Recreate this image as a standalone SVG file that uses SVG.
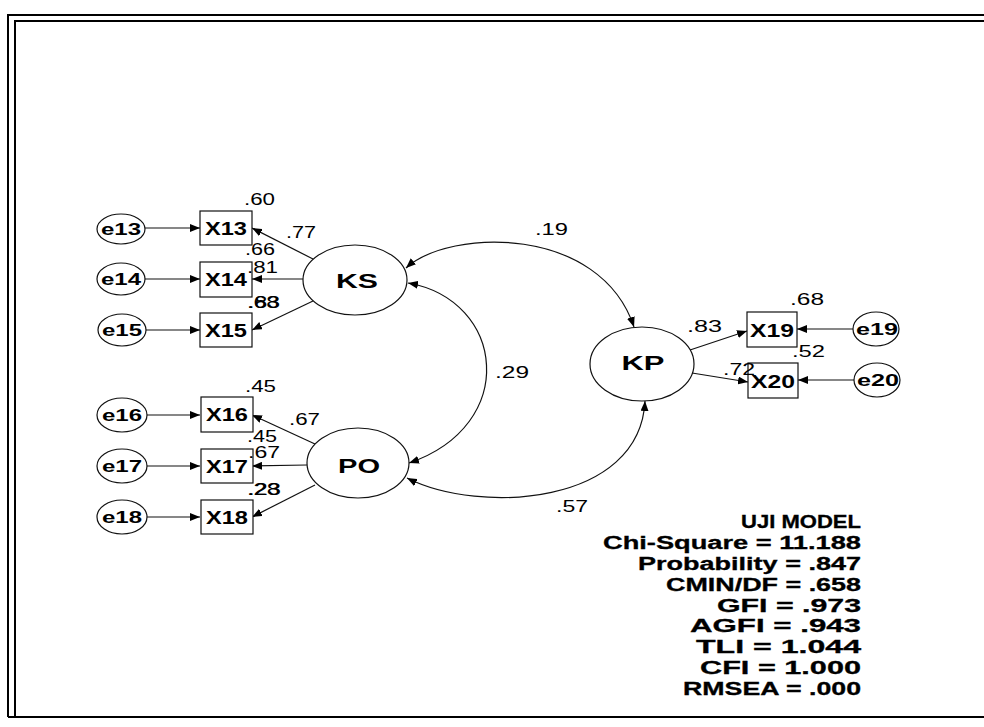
<svg xmlns="http://www.w3.org/2000/svg" width="984" height="727" viewBox="0 0 984 727">
<style>
.frame{fill:none;stroke:#000;stroke-width:2}
.c{fill:none;stroke:#111;stroke-width:1.2}
.box{fill:#fff;stroke:#111;stroke-width:1.2}
.ell{fill:#fff;stroke:#111;stroke-width:1.2}
.lbl{font-family:"Liberation Sans",Arial,sans-serif;font-size:16px;fill:#000}
.bx{font-family:"Liberation Sans",Arial,sans-serif;font-size:18px;font-weight:bold;fill:#000;text-anchor:middle}
.el{font-family:"Liberation Sans",Arial,sans-serif;font-size:17px;font-weight:bold;fill:#000;text-anchor:middle}
.lat{font-family:"Liberation Sans",Arial,sans-serif;font-size:20px;font-weight:bold;fill:#000;text-anchor:middle}
.st{font-family:"Liberation Sans",Arial,sans-serif;font-size:18px;font-weight:bold;fill:#000;text-anchor:end;stroke:#000;stroke-width:0.3}
</style>
<defs>
<marker id="ah" viewBox="0 0 10 8" refX="10" refY="4" markerWidth="10" markerHeight="8" orient="auto-start-reverse" markerUnits="userSpaceOnUse">
<path d="M0,0 L10,4 L0,8 z" fill="#000"/>
</marker>
</defs>
<rect width="984" height="727" fill="#fff"/>
<g id="frame">
<path class="frame" d="M8,717 L8,15 L984,15"/>
<path class="frame" d="M15,717 L15,21 L984,21"/>
<path class="frame" d="M8,717 L984,717"/>
</g>
<g id="connectors">
<path class="c" marker-end="url(#ah)" d="M145,228 L200,228"/>
<path class="c" marker-end="url(#ah)" d="M145,279 L200,279"/>
<path class="c" marker-end="url(#ah)" d="M146,330 L200,330"/>
<path class="c" marker-end="url(#ah)" d="M147,415 L200,415"/>
<path class="c" marker-end="url(#ah)" d="M147,466 L200,466"/>
<path class="c" marker-end="url(#ah)" d="M147,517 L200,517"/>
<path class="c" marker-end="url(#ah)" d="M313,259 L252,228"/>
<path class="c" marker-end="url(#ah)" d="M303,279 L252,279"/>
<path class="c" marker-end="url(#ah)" d="M313,301 L252,330"/>
<path class="c" marker-end="url(#ah)" d="M315,444 L252,415"/>
<path class="c" marker-end="url(#ah)" d="M307,465 L252,466"/>
<path class="c" marker-end="url(#ah)" d="M315,485 L252,517"/>
<path class="c" marker-end="url(#ah)" d="M690,350 L747,331"/>
<path class="c" marker-end="url(#ah)" d="M692,373 L748,382"/>
<path class="c" marker-end="url(#ah)" d="M853,329 L797,329"/>
<path class="c" marker-end="url(#ah)" d="M854,380 L798,380"/>
<path class="c" marker-start="url(#ah)" marker-end="url(#ah)" d="M406,268 C450,228 600,225 634,327"/>
<path class="c" marker-start="url(#ah)" marker-end="url(#ah)" d="M408,283 C505,300 520,425 409,463"/>
<path class="c" marker-start="url(#ah)" marker-end="url(#ah)" d="M407,478 C480,515 640,505 645,401"/>
</g>
<g id="e13"><ellipse class="ell" cx="121" cy="229" rx="24" ry="15"/><text class="el" x="121" y="235" textLength="40" lengthAdjust="spacingAndGlyphs">e13</text></g>
<g id="e14"><ellipse class="ell" cx="121" cy="279" rx="24" ry="16"/><text class="el" x="121" y="285" textLength="40" lengthAdjust="spacingAndGlyphs">e14</text></g>
<g id="e15"><ellipse class="ell" cx="122" cy="330" rx="24" ry="16"/><text class="el" x="122" y="336" textLength="40" lengthAdjust="spacingAndGlyphs">e15</text></g>
<g id="e16"><ellipse class="ell" cx="122" cy="415" rx="25" ry="17"/><text class="el" x="122" y="421" textLength="40" lengthAdjust="spacingAndGlyphs">e16</text></g>
<g id="e17"><ellipse class="ell" cx="122" cy="466" rx="25" ry="17"/><text class="el" x="122" y="472" textLength="40" lengthAdjust="spacingAndGlyphs">e17</text></g>
<g id="e18"><ellipse class="ell" cx="122" cy="517" rx="25" ry="17"/><text class="el" x="122" y="523" textLength="40" lengthAdjust="spacingAndGlyphs">e18</text></g>
<g id="X13"><rect class="box" x="200" y="211" width="52" height="34"/><text class="bx" x="226" y="235" textLength="42" lengthAdjust="spacingAndGlyphs">X13</text></g>
<g id="X14"><rect class="box" x="200" y="262" width="52" height="35"/><text class="bx" x="226" y="286" textLength="42" lengthAdjust="spacingAndGlyphs">X14</text></g>
<g id="X15"><rect class="box" x="200" y="313" width="52" height="34"/><text class="bx" x="226" y="337" textLength="42" lengthAdjust="spacingAndGlyphs">X15</text></g>
<g id="X16"><rect class="box" x="201" y="397" width="52" height="35"/><text class="bx" x="227" y="421" textLength="42" lengthAdjust="spacingAndGlyphs">X16</text></g>
<g id="X17"><rect class="box" x="201" y="449" width="52" height="34"/><text class="bx" x="227" y="473" textLength="42" lengthAdjust="spacingAndGlyphs">X17</text></g>
<g id="X18"><rect class="box" x="201" y="500" width="52" height="34"/><text class="bx" x="227" y="524" textLength="42" lengthAdjust="spacingAndGlyphs">X18</text></g>
<g id="KS"><ellipse class="ell" cx="355" cy="280" rx="52" ry="35"/><text class="lat" x="357" y="288" textLength="42" lengthAdjust="spacingAndGlyphs">KS</text></g>
<g id="PO"><ellipse class="ell" cx="358" cy="463" rx="51" ry="35"/><text class="lat" x="359" y="473" textLength="42" lengthAdjust="spacingAndGlyphs">PO</text></g>
<g id="KP"><ellipse class="ell" cx="642" cy="364" rx="52" ry="37"/><text class="lat" x="643" y="370" textLength="43" lengthAdjust="spacingAndGlyphs">KP</text></g>
<g id="X19"><rect class="box" x="747" y="312" width="50" height="35"/><text class="bx" x="772" y="337" textLength="44" lengthAdjust="spacingAndGlyphs">X19</text></g>
<g id="X20"><rect class="box" x="748" y="363" width="50" height="35"/><text class="bx" x="773" y="388" textLength="44" lengthAdjust="spacingAndGlyphs">X20</text></g>
<g id="e19"><ellipse class="ell" cx="876" cy="329" rx="23" ry="17"/><text class="el" x="877" y="335" textLength="42" lengthAdjust="spacingAndGlyphs">e19</text></g>
<g id="e20"><ellipse class="ell" cx="877" cy="380" rx="23" ry="17"/><text class="el" x="878" y="386" textLength="42" lengthAdjust="spacingAndGlyphs">e20</text></g>
<g id="labels">
<text class="lbl" x="244" y="205" textLength="31" lengthAdjust="spacingAndGlyphs">.60</text>
<text class="lbl" x="286" y="238" textLength="30" lengthAdjust="spacingAndGlyphs">.77</text>
<text class="lbl" x="245" y="255" textLength="30" lengthAdjust="spacingAndGlyphs">.66</text>
<text class="lbl" x="247" y="273" textLength="31" lengthAdjust="spacingAndGlyphs">.81</text>
<text class="lbl" x="247" y="308" textLength="32" lengthAdjust="spacingAndGlyphs">.68</text>
<text class="lbl" x="248" y="308" textLength="32" lengthAdjust="spacingAndGlyphs">.83</text>
<text class="lbl" x="245" y="392" textLength="31" lengthAdjust="spacingAndGlyphs">.45</text>
<text class="lbl" x="289" y="425" textLength="31" lengthAdjust="spacingAndGlyphs">.67</text>
<text class="lbl" x="247" y="442" textLength="30" lengthAdjust="spacingAndGlyphs">.45</text>
<text class="lbl" x="248" y="458" textLength="32" lengthAdjust="spacingAndGlyphs">.67</text>
<text class="lbl" x="247" y="495" textLength="33" lengthAdjust="spacingAndGlyphs">.28</text>
<text class="lbl" x="248" y="495" textLength="33" lengthAdjust="spacingAndGlyphs">.23</text>
<text class="lbl" x="535" y="235" textLength="33" lengthAdjust="spacingAndGlyphs">.19</text>
<text class="lbl" x="495" y="378" textLength="34" lengthAdjust="spacingAndGlyphs">.29</text>
<text class="lbl" x="556" y="512" textLength="32" lengthAdjust="spacingAndGlyphs">.57</text>
<text class="lbl" x="790" y="305" textLength="34" lengthAdjust="spacingAndGlyphs">.68</text>
<text class="lbl" x="687" y="332" textLength="35" lengthAdjust="spacingAndGlyphs">.83</text>
<text class="lbl" x="792" y="357" textLength="33" lengthAdjust="spacingAndGlyphs">.52</text>
<text class="lbl" x="723" y="375" textLength="32" lengthAdjust="spacingAndGlyphs">.72</text>
</g>
<g id="fit">
<text class="st" x="861" y="528" textLength="120" lengthAdjust="spacingAndGlyphs">UJI MODEL</text>
<text class="st" x="861" y="549" textLength="258" lengthAdjust="spacingAndGlyphs">Chi-Square = 11.188</text>
<text class="st" x="861" y="570" textLength="223" lengthAdjust="spacingAndGlyphs">Probability = .847</text>
<text class="st" x="861" y="591" textLength="195" lengthAdjust="spacingAndGlyphs">CMIN/DF = .658</text>
<text class="st" x="861" y="612" textLength="144" lengthAdjust="spacingAndGlyphs">GFI = .973</text>
<text class="st" x="861" y="632" textLength="171" lengthAdjust="spacingAndGlyphs">AGFI = .943</text>
<text class="st" x="861" y="653" textLength="165" lengthAdjust="spacingAndGlyphs">TLI = 1.044</text>
<text class="st" x="861" y="674" textLength="161" lengthAdjust="spacingAndGlyphs">CFI = 1.000</text>
<text class="st" x="861" y="695" textLength="178" lengthAdjust="spacingAndGlyphs">RMSEA = .000</text>
</g>
</svg>
